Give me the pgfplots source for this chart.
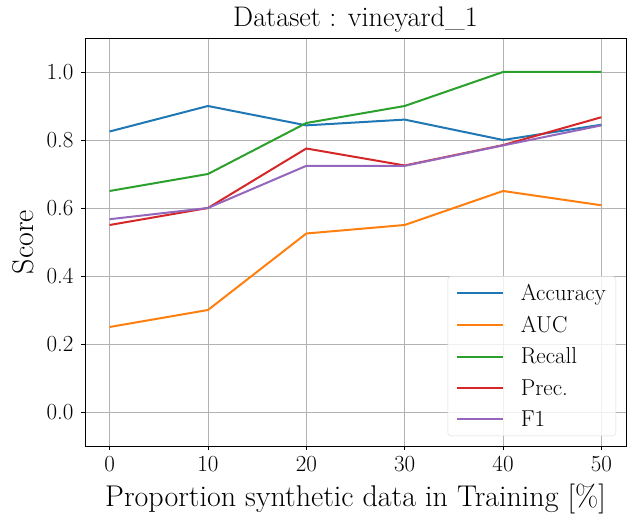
\documentclass[border=0pt]{standalone}
\usepackage{fontspec}
\setmainfont{Latin Modern Roman}
\usepackage{pgfplots}
\pgfplotsset{compat=1.18}

\definecolor{tabblue}{HTML}{1F77B4}
\definecolor{taborange}{HTML}{FF7F0E}
\definecolor{tabgreen}{HTML}{2CA02C}
\definecolor{tabred}{HTML}{D62728}
\definecolor{tabpurple}{HTML}{9467BD}

\begin{document}
\begin{tikzpicture}
\begin{axis}[
  scale only axis,
  width=541pt, height=408pt,
  xmin=-2.5, xmax=52.5,
  ymin=-0.1, ymax=1.1,
  xtick={0,10,20,30,40,50},
  ytick={0,0.2,0.4,0.6,0.8,1.0},
  /pgf/number format/assume math mode=true,
  tick label style={font=\fontsize{23}{25}\selectfont},
  yticklabel style={xshift=-4pt, /pgf/number format/.cd, fixed, fixed zerofill, precision=1},
  xticklabel style={yshift=-3pt},
  tick align=outside,
  major tick length=4pt,
  tick style={black, line width=0.8pt},
  xtick pos=bottom, ytick pos=left,
  grid=major,
  major grid style={color=black!30, line width=0.8pt},
  axis line style={black, line width=0.8pt},
  title={Dataset : vineyard\_1},
  title style={font=\fontsize{28.3}{31}\selectfont, yshift=-4pt},
  xlabel={Proportion synthetic data in Training [\%]},
  ylabel={Score},
  label style={font=\fontsize{30}{33}\selectfont},
  xlabel style={yshift=-5pt},
  ylabel style={yshift=6pt},
  legend cell align=left,
  legend style={
    at={(1,0)}, anchor=south east, xshift=-10pt, yshift=10pt,
    font=\fontsize{23}{27}\selectfont,
    draw=black!15, rounded corners=3pt, fill=white, fill opacity=0.8,
    text opacity=1, inner xsep=8pt, inner ysep=6pt,
    row sep=10pt,
    /tikz/every odd column/.append style={column sep=15pt},
  },
  legend image code/.code={\draw[#1, line width=2pt] (0pt,0pt) -- (46pt,0pt);},
  every axis plot/.append style={line width=2pt},
]
\addplot[tabblue] coordinates {(0,0.825) (10,0.900) (20,0.843) (30,0.860) (40,0.800) (50,0.845)};
\addlegendentry{Accuracy}
\addplot[taborange] coordinates {(0,0.250) (10,0.300) (20,0.525) (30,0.550) (40,0.650) (50,0.608)};
\addlegendentry{AUC}
\addplot[tabgreen] coordinates {(0,0.650) (10,0.700) (20,0.850) (30,0.900) (40,1.000) (50,1.000)};
\addlegendentry{Recall}
\addplot[tabred] coordinates {(0,0.550) (10,0.600) (20,0.775) (30,0.725) (40,0.785) (50,0.867)};
\addlegendentry{Prec.}
\addplot[tabpurple] coordinates {(0,0.567) (10,0.600) (20,0.724) (30,0.724) (40,0.784) (50,0.843)};
\addlegendentry{F1}
\end{axis}
\path ([shift={(-85pt,-67pt)}]current axis.south west) rectangle ([shift={(9pt,38pt)}]current axis.north east);
\end{tikzpicture}
\end{document}
